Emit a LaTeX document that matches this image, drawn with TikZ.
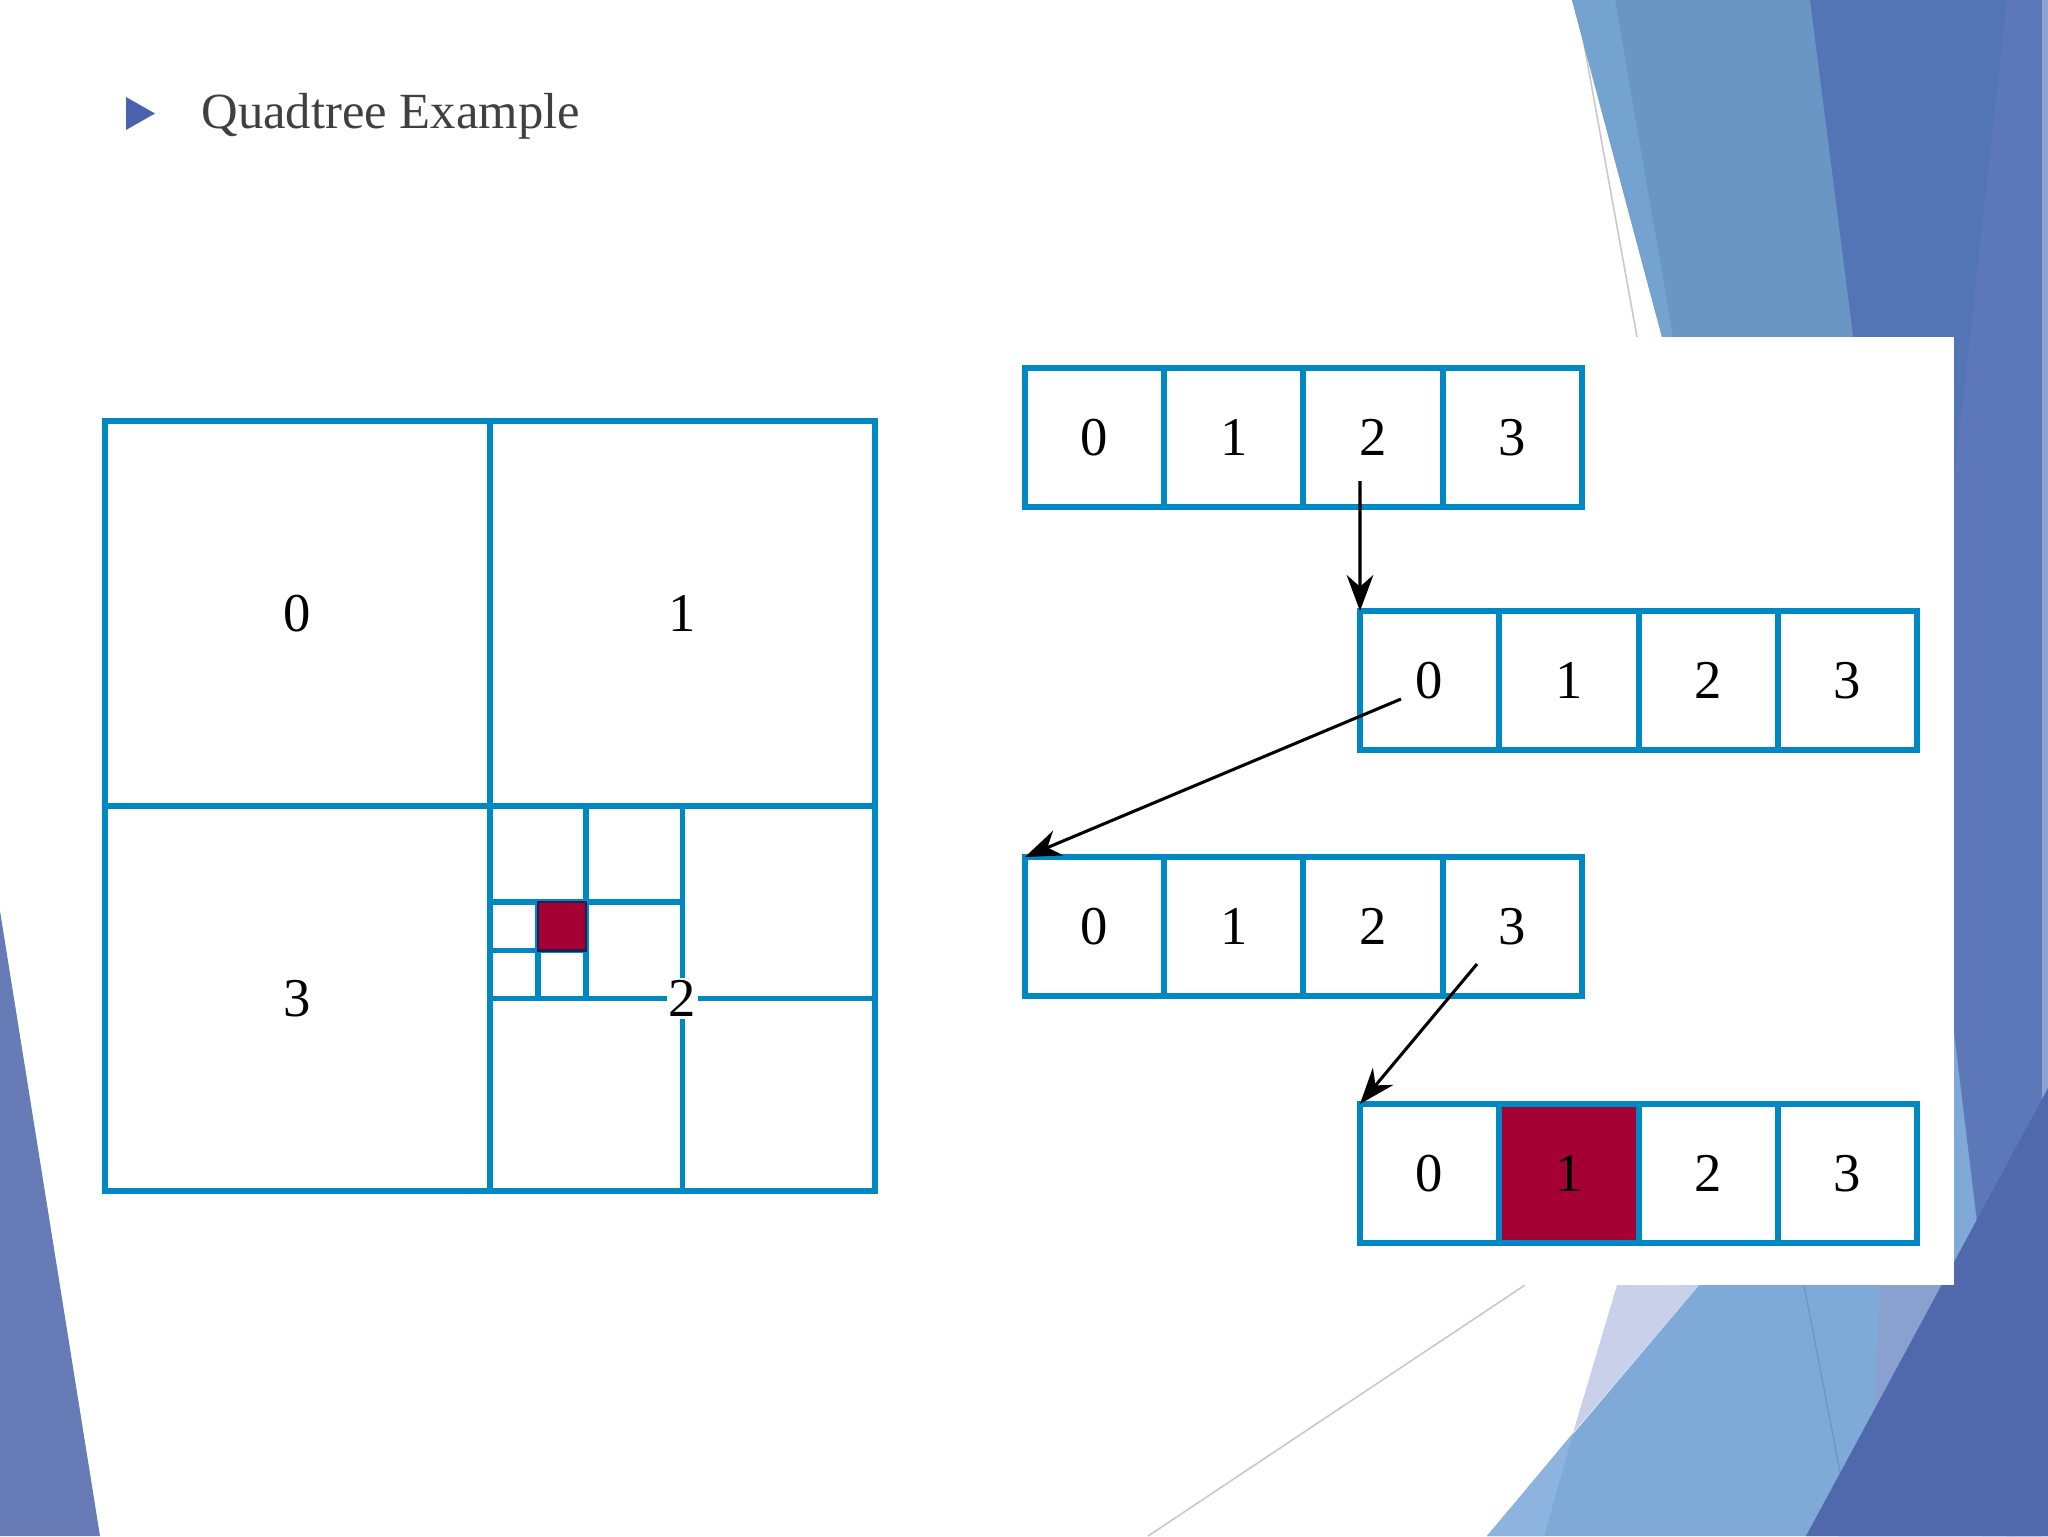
\documentclass[tikz,border=0pt]{standalone}
\usepackage{fontspec}
\setmainfont{Liberation Serif}
\usetikzlibrary{arrows.meta,positioning}

\definecolor{qblue}{RGB}{0,136,194}
\definecolor{qred}{RGB}{165,0,52}
\definecolor{qnavy}{RGB}{35,30,90}
\definecolor{titlegray}{RGB}{64,64,64}
\definecolor{qbullet}{RGB}{74,98,174}
\definecolor{facetA}{RGB}{106,150,196}
\definecolor{facetB}{RGB}{117,163,207}
\definecolor{facetC}{RGB}{83,117,182}
\definecolor{facetD}{RGB}{93,120,184}
\definecolor{facetE}{RGB}{140,162,210}
\definecolor{facetF}{RGB}{127,170,216}
\definecolor{facetG}{RGB}{201,209,234}
\definecolor{facetH}{RGB}{140,180,222}
\definecolor{facetI}{RGB}{138,161,207}
\definecolor{facetJ}{RGB}{80,105,173}
\definecolor{facetK}{RGB}{103,124,182}
\definecolor{facetL}{RGB}{107,152,203}
\definecolor{facetline}{RGB}{200,200,206}

\tikzset{every picture/.style={line width=0.75pt}}
\tikzset{
  qline/.style={draw=qblue, line width=4.2pt},
  cell/.style={draw=qblue, line width=4.5pt, minimum width=104.44pt, minimum height=104.25pt, outer sep=0pt, inner sep=0pt, font=\fontsize{41}{49}\selectfont},
  quad/.style={inner sep=1.5pt, font=\fontsize{41}{49}\selectfont},
  link/.style={draw=black, line width=2.3pt, -{Stealth[length=27pt,width=20pt]}},
}

\begin{document}
\begin{tikzpicture}[x=0.75pt,y=0.75pt,yscale=-1,xscale=1]
\useasboundingbox (0,0) rectangle (2048,1536);
\fill [white] (0,0) rectangle (2048,1536);

%Background facets
\draw [facetline, line width=1.2pt] (1576,0) -- (1637,337) ;
\fill [facetA] (1572,0) -- (2048,0) -- (2048,1536) -- (1982,1536) -- cycle ;
\fill [facetB] (1572,0) -- (1615,0) -- (1673,337) -- (1662,337) -- cycle ;
\fill [facetC] (1810,0) -- (2048,0) -- (2048,1536) -- (2007,1536) -- cycle ;
\fill [facetD] (2007,0) -- (2042,0) -- (2042,1536) -- (1838,1536) -- cycle ;
\fill [facetE] (2042,0) -- (2048,0) -- (2048,1100) -- (2042,1100) -- cycle ;
\fill [facetF] (1487,1536) -- (1912,1033) -- (1954,1033) -- (2015,1536) -- cycle ;
\fill [facetG] (1617,1285) -- (1699,1285) -- (1573,1433) -- cycle ;
\fill [facetH] (1573,1433) -- (1544,1536) -- (1487,1536) -- cycle ;
\fill [facetI] (1880,1285) -- (1943,1285) -- (1874,1415) -- cycle ;
\draw [facetL, line width=1pt] (1804,1285) -- (1841,1477) ;
\fill [facetJ] (2048,1088) -- (1806,1536) -- (2048,1536) -- cycle ;
\fill [facetK] (0,911) -- (100,1536) -- (0,1536) -- cycle ;
\draw [facetline, line width=1.2pt] (1148,1536) -- (1525,1285) ;
%Shape: Rectangle (picture area)
\fill [white] (1000,337) rectangle (1954,1285) ;

%Shape: Triangle
\fill [qbullet] (126,97) -- (155,113.5) -- (126,130) -- cycle ;
% Text Node
\node [anchor=base west, inner sep=0pt, text=titlegray, font=\fontsize{38}{46}\selectfont] (title) at (201,128) {Quadtree Example};

%Shape: Square
\draw [qline] (105,421) rectangle (875,1191) ;
%Straight Lines
\draw [qline] (490,421) -- (490,1191) ;
\draw [qline] (105,806) -- (875,806) ;
\draw [qline] (682.5,806) -- (682.5,1191) ;
\draw [qline] (490,998.5) -- (875,998.5) ;
\draw [qline] (586.25,806) -- (586.25,998.5) ;
\draw [qline] (490,902.25) -- (682.5,902.25) ;
\draw [qline] (538.1,902.25) -- (538.1,998.5) ;
\draw [qline] (490,950.4) -- (586.25,950.4) ;
%Shape: Square
\draw [draw=qnavy, fill=qred, line width=1.8pt] (538.1,902.25) rectangle (586.25,950.4) ;

% Text Node
\node [quad] (q0) at (297.5,613.5) {0};
% Text Node
\node [quad] (q1) at (682.5,613.5) {1};
% Text Node
\node [quad, fill=white] (q2) at (682.5,998.5) {2};
% Text Node
\node [quad] (q3) at (297.5,998.5) {3};

% Text Node
\node [cell] (r1c0) at (1094.6,437.5) {0};
\node [cell, right=0pt of r1c0] (r1c1) {1};
\node [cell, right=0pt of r1c1] (r1c2) {2};
\node [cell, right=0pt of r1c2] (r1c3) {3};
% Text Node
\node [cell] (r2c0) at (1429.6,680.5) {0};
\node [cell, right=0pt of r2c0] (r2c1) {1};
\node [cell, right=0pt of r2c1] (r2c2) {2};
\node [cell, right=0pt of r2c2] (r2c3) {3};
% Text Node
\node [cell] (r3c0) at (1094.6,926.5) {0};
\node [cell, right=0pt of r3c0] (r3c1) {1};
\node [cell, right=0pt of r3c1] (r3c2) {2};
\node [cell, right=0pt of r3c2] (r3c3) {3};
% Text Node
\node [cell] (r4c0) at (1429.6,1173.5) {0};
\node [cell, fill=qred, right=0pt of r4c0] (r4c1) {1};
\node [cell, right=0pt of r4c1] (r4c2) {2};
\node [cell, right=0pt of r4c2] (r4c3) {3};

\coordinate (s1) at (1360,481) ;
\coordinate (s2) at (1401,699) ;
\coordinate (s3) at (1477,964) ;
% Connection
\draw [link] (s1) -- (r2c0.north west) ;
% Connection
\draw [link] (s2) -- (r3c0.north west) ;
% Connection
\draw [link] (s3) -- (r4c0.north west) ;

\end{tikzpicture}
\end{document}
